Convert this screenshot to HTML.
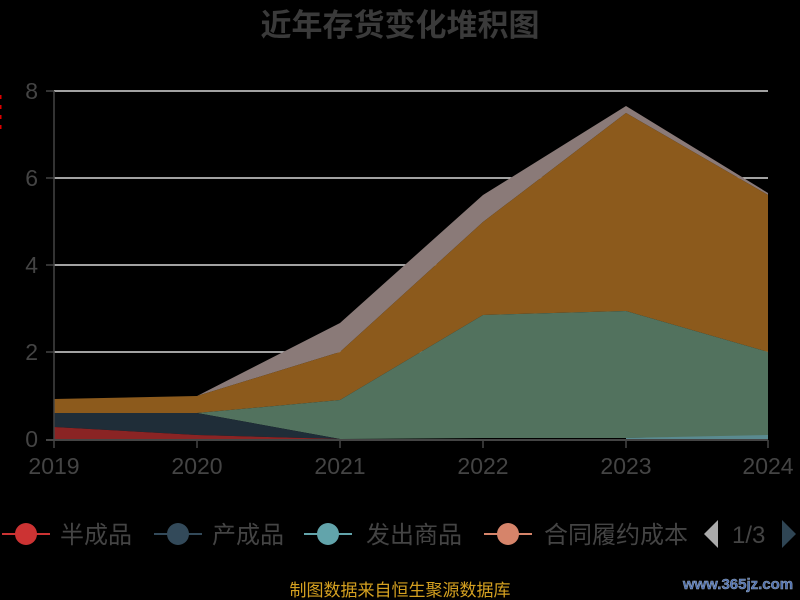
<!DOCTYPE html>
<html><head><meta charset="utf-8"><style>
html,body{margin:0;padding:0;background:#000;}
svg{display:block;font-family:"Liberation Sans","Noto Sans CJK SC",sans-serif;}
</style></head><body>
<svg width="800" height="600" viewBox="0 0 800 600">
<rect width="800" height="600" fill="#000"/>
<text x="400" y="36" text-anchor="middle" font-size="31" font-weight="bold" fill="#3a3a3a">近年存货变化堆积图</text>
<g stroke="#d8d8d8" stroke-width="1.5">
<line x1="54" y1="91" x2="768" y2="91"/><line x1="54" y1="178" x2="768" y2="178"/>
<line x1="54" y1="265" x2="768" y2="265"/><line x1="54" y1="352" x2="768" y2="352"/>
</g>
<polygon fill="#8a7a78" points="54,399 197,396 340,323 483,195 626,106 768,193 768,195 626,113 483,222 340,352 197,396 54,399"/>
<polygon fill="#8c5a1c" points="54,399 197,396 340,352 483,222 626,113 768,195 768,352 626,311 483,315 340,400 197,413 54,413"/>
<polygon fill="#52725e" points="54,413 197,413 340,400 483,315 626,311 768,352 768,436 626,438 483,438 340,439 197,413 54,413"/>
<polygon fill="#5a8a90" points="626,438 768,435 768,439 626,439"/>
<polygon fill="#1f2d38" points="54,413 197,413 340,439 197,435 54,427"/>
<polygon fill="#8a2424" points="54,427 197,435 340,439 54,439"/>
<line x1="54" y1="91" x2="54" y2="440" stroke="#444" stroke-width="1.5"/>
<line x1="46" y1="440" x2="768" y2="440" stroke="#444" stroke-width="2"/>
<g stroke="#444" stroke-width="1.5">
<line x1="46" y1="91" x2="54" y2="91"/><line x1="46" y1="178" x2="54" y2="178"/><line x1="46" y1="265" x2="54" y2="265"/><line x1="46" y1="352" x2="54" y2="352"/>
<line x1="54" y1="440" x2="54" y2="448"/><line x1="197" y1="440" x2="197" y2="448"/><line x1="340" y1="440" x2="340" y2="448"/><line x1="483" y1="440" x2="483" y2="448"/><line x1="626" y1="440" x2="626" y2="448"/><line x1="768" y1="440" x2="768" y2="448"/>
</g>
<g font-size="23" fill="#444" text-anchor="end">
<text x="38" y="99">8</text><text x="38" y="186">6</text><text x="38" y="273">4</text><text x="38" y="360">2</text><text x="38" y="447">0</text>
</g>
<g font-size="23" fill="#444" text-anchor="middle">
<text x="54" y="474">2019</text><text x="197" y="474">2020</text><text x="340" y="474">2021</text><text x="483" y="474">2022</text><text x="626" y="474">2023</text><text x="768" y="474">2024</text>
</g>
<line x1="0" y1="95" x2="0" y2="135" stroke="#d00" stroke-width="3" stroke-dasharray="4,6"/>
<g font-size="24" fill="#444">
<line x1="2" y1="534" x2="50" y2="534" stroke="#c33" stroke-width="2"/><circle cx="26" cy="534" r="11" fill="#c33"/><text x="60" y="543">半成品</text>
<line x1="154" y1="534" x2="202" y2="534" stroke="#334a5a" stroke-width="2"/><circle cx="178" cy="534" r="11" fill="#334a5a"/><text x="212" y="543">产成品</text>
<line x1="304" y1="534" x2="352" y2="534" stroke="#62a4ab" stroke-width="2"/><circle cx="328" cy="534" r="11" fill="#62a4ab"/><text x="366" y="543">发出商品</text>
<line x1="484" y1="534" x2="532" y2="534" stroke="#d6846a" stroke-width="2"/><circle cx="508" cy="534" r="11" fill="#d6846a"/><text x="544" y="543">合同履约成本</text>
<polygon points="704,534 718,520 718,548" fill="#aaa"/>
<text x="732" y="543">1/3</text>
<polygon points="782,520 796,534 782,548" fill="#2f4554"/>
</g>
<text x="400" y="596" text-anchor="middle" font-size="17" fill="#d4a020">制图数据来自恒生聚源数据库</text>
<text x="738" y="589" text-anchor="middle" font-size="15" font-weight="bold" fill="#4a6cb0" stroke="#9ab" stroke-width="0.5">www.365jz.com</text>
</svg>
</body></html>
